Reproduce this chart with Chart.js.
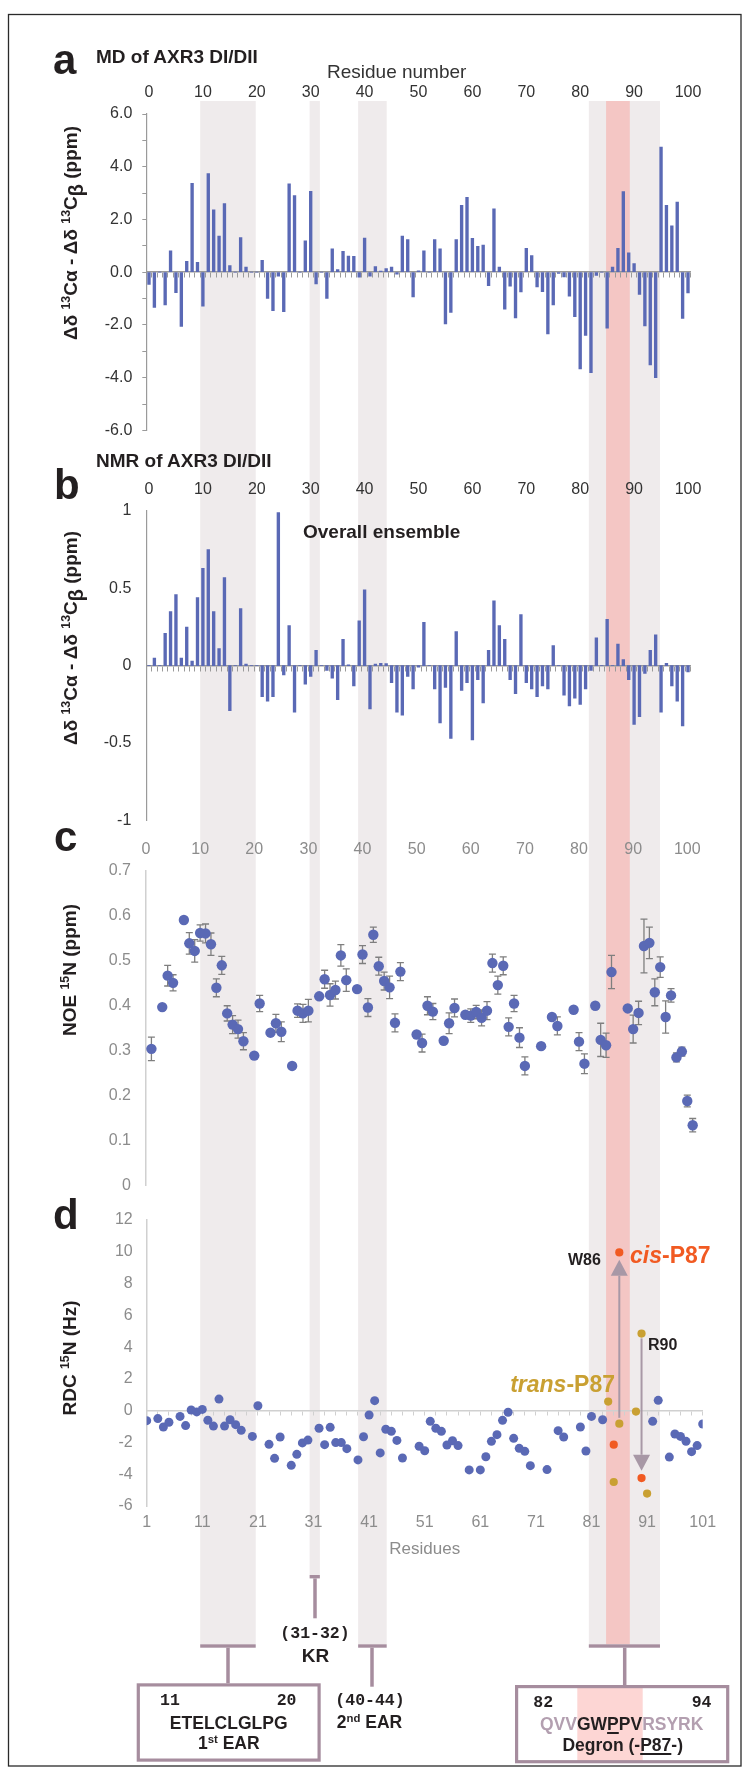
<!DOCTYPE html>
<html>
<head>
<meta charset="utf-8">
<script src="https://cdn.jsdelivr.net/npm/chart.js@4.4.0/dist/chart.umd.min.js"></script>
<style>
  body { margin: 0; background: #fff; }
  #page { position: relative; width: 745px; height: 1769px; overflow: hidden;
          font-family: 'Liberation Sans', Arial, Helvetica, sans-serif; color: #231f20; }
  #page canvas { position: absolute; left: 0; }
  .t { position: absolute; line-height: 1; white-space: nowrap; }
  .b { font-weight: bold; }
  .c { transform: translateX(-50%); }
  .mono { font-family: 'Liberation Mono', 'Courier New', monospace; font-weight: bold; font-size: 16.5px; }
  .rot { position: absolute; line-height: 1; white-space: nowrap; font-weight: bold; font-size: 19px;
         transform: translate(-50%, -50%) rotate(-90deg); }
  sup { font-size: 0.65em; vertical-align: 0.55em; line-height: 0; }
  .beta { display: inline-block; font-size: 1.05em; transform: translateY(0.3em); }
  u { text-decoration-thickness: 2px; text-underline-offset: 2px; }
  .lilac { color: #b39fb0; }
</style>
</head>
<body>
<div id="page">
  <canvas id="bg" width="745" height="1769" style="top:0"></canvas>
  <canvas id="cA" width="745" height="410" style="top:40px"></canvas>
  <canvas id="cB" width="745" height="395" style="top:450px"></canvas>
  <canvas id="cC" width="745" height="390" style="top:820px"></canvas>
  <canvas id="cD" width="745" height="380" style="top:1190px"></canvas>

  <!-- panel a -->
  <div class="t b" style="left:53px;top:38.7px;font-size:42px">a</div>
  <div class="t b" style="left:96px;top:47.2px;font-size:19px">MD of AXR3 DI/DII</div>
  <div class="t" style="left:327px;top:62.2px;font-size:19px;color:#333">Residue number</div>
  <div class="rot" style="left:71px;top:232.5px">Δδ <sup>13</sup>Cα - Δδ <sup>13</sup>C<span class="beta">β</span> (ppm)</div>

  <!-- panel b -->
  <div class="t b" style="left:54px;top:464.4px;font-size:42px">b</div>
  <div class="t b" style="left:96px;top:450.6px;font-size:19px">NMR of AXR3 DI/DII</div>
  <div class="t b" style="left:303px;top:522.2px;font-size:19px">Overall ensemble</div>
  <div class="rot" style="left:71px;top:637.5px">Δδ <sup>13</sup>Cα - Δδ <sup>13</sup>C<span class="beta">β</span> (ppm)</div>

  <!-- panel c -->
  <div class="t b" style="left:54px;top:816.1px;font-size:42px">c</div>
  <div class="rot" style="left:68.5px;top:970px">NOE <sup>15</sup>N (ppm)</div>

  <!-- panel d -->
  <div class="t b" style="left:53px;top:1194.4px;font-size:42px">d</div>
  <div class="rot" style="left:68.5px;top:1358.3px">RDC <sup>15</sup>N (Hz)</div>
  <div class="t b" style="left:568px;top:1252.2px;font-size:16px">W86</div>
  <div class="t b" style="left:630px;top:1243.8px;font-size:23px;color:#f15a22"><i>cis</i>-P87</div>
  <div class="t b" style="left:648px;top:1337.2px;font-size:16px">R90</div>
  <div class="t b" style="right:130px;top:1373.2px;font-size:23px;color:#c9a032"><i>trans</i>-P87</div>

  <!-- region labels -->
  <div class="t mono c" style="left:315px;top:1625.7px">(31-32)</div>
  <div class="t b c" style="left:315.5px;top:1645.6px;font-size:19px">KR</div>
  <div class="t mono" style="left:160px;top:1693.4px">11</div>
  <div class="t mono" style="left:276.7px;top:1693.4px">20</div>
  <div class="t b c" style="left:228.7px;top:1715.2px;font-size:17.5px">ETELCLGLPG</div>
  <div class="t b c" style="left:228.8px;top:1734.5px;font-size:17.5px">1<sup>st</sup> EAR</div>
  <div class="t mono c" style="left:370px;top:1693.4px">(40-44)</div>
  <div class="t b c" style="left:369.5px;top:1714.2px;font-size:17.5px">2<sup>nd</sup> EAR</div>
  <div class="t mono" style="left:533.3px;top:1695.1px">82</div>
  <div class="t mono" style="left:691.7px;top:1695.1px">94</div>
  <div class="t b c" style="left:621.7px;top:1715.9px;font-size:17.5px"><span class="lilac">QVV</span>GW<u>P</u>PV<span class="lilac">RSYRK</span></div>
  <div class="t b c" style="left:622.7px;top:1736.9px;font-size:17.5px">Degron (-<u>P87</u>-)</div>
</div>

<script>
// ---- data ----

// a: MD, Δδ13Cα - Δδ13Cβ (ppm), one bar per residue position 0..100 of the top axis
const mdShift = [
  -0.46, -1.34, 0, -1.24, 0.81, -0.78, -2.06, 0.41, 3.37, 0.37,
  -1.29, 3.74, 2.37, 1.37, 2.6, 0.25, 0, 1.31, 0.19, 0,
  0, 0.45, -0.99, -1.46, -0.15, -1.5, 3.35, 2.91, 0, 1.19,
  3.07, -0.44, 0, -0.99, 0.89, 0.1, 0.79, 0.61, 0.6, -0.19,
  1.29, -0.15, 0.21, 0.04, 0.14, 0.19, -0.07, 1.37, 1.24, -0.94,
  0.05, 0.81, 0, 1.24, 0.89, -1.96, -1.53, 1.24, 2.54, 2.84,
  1.28, 0.98, 1.03, -0.51, 2.4, 0.19, -1.4, -0.53, -1.73, -0.75,
  0.91, 0.63, -0.56, -0.74, -2.34, -1.24, -0.05, -0.18, -0.91, -1.69,
  -3.67, -2.4, -3.81, -0.12, 0, -2.12, 0.19, 0.91, 3.06, 0.73,
  0.33, -0.84, -2.04, -3.52, -4.0, 4.75, 2.54, 1.76, 2.66, -1.75,
  -0.79
];

// b: NMR overall ensemble (ppm)
const nmrShift = [
  0, 0.05, 0, 0.21, 0.35, 0.46, 0.05, 0.25, 0.03, 0.44,
  0.63, 0.75, 0.35, 0.11, 0.57, -0.29, 0, 0.37, 0.01, 0,
  0, -0.2, -0.23, -0.2, 0.99, -0.06, 0.26, -0.3, 0, -0.12,
  -0.07, 0.1, 0, -0.03, -0.08, -0.22, 0.17, 0.005, -0.13, 0.29,
  0.49, -0.28, 0.01, 0.015, 0.013, -0.11, -0.3, -0.32, -0.07, -0.15,
  -0.01, 0.28, 0, -0.15, -0.37, -0.14, -0.47, 0.22, -0.16, -0.11,
  -0.48, -0.09, -0.24, 0.1, 0.42, 0.26, 0.17, -0.09, -0.18, 0.33,
  -0.11, -0.15, -0.2, -0.13, -0.15, 0.13, 0, -0.19, -0.26, -0.21,
  -0.25, -0.15, -0.03, 0.18, 0, 0.3, 0, 0.14, 0.04, -0.09,
  -0.38, -0.33, -0.05, 0.1, 0.2, -0.3, 0.015, -0.13, -0.23, -0.39,
  -0.04
];
const barPosition = mdShift.map((_, i) => i);

// c: 15N NOE with error bars
const noeResidue = [1,3,4,5,7,8,9,10,11,12, 13,14,15,16,17,18,20,21,23,24,
  25,27,28,29,30,32,33,34,35,36, 37,39,40,41,42,43,44,45,46,47,
  50,51,52,53,55,56,57,59,60,61, 62,63,64,65,66,67,68,69,70,73,
  75,76,79,80,81,83,84,85,86,89, 90,91,92,93,94,95,96,97,98,99, 100,101];
const noeValue = [0.304,0.397,0.467,0.451,0.591,0.539,0.522,0.562,0.561,0.537,
  0.44,0.49,0.383,0.358,0.348,0.321,0.289,0.405,0.34,0.361,
  0.342,0.266,0.389,0.383,0.389,0.421,0.459,0.424,0.435,0.512,
  0.457,0.437,0.514,0.396,0.558,0.488,0.455,0.441,0.362,0.476,
  0.336,0.317,0.4,0.387,0.322,0.361,0.395,0.38,0.378,0.386,
  0.373,0.389,0.495,0.446,0.489,0.353,0.405,0.329,0.266,0.31,
  0.375,0.355,0.391,0.32,0.271,0.4,0.324,0.312,0.475,0.394,
  0.348,0.384,0.533,0.54,0.43,0.486,0.375,0.423,0.285,0.298,
  0.188,0.134];
const noeError = [0.026,0,0.023,0.018,0,0.024,0.025,0.018,0.021,0.025,
  0.02,0.02,0.017,0.02,0.02,0.019,0,0.018,0,0.02,
  0.022,0,0.015,0.02,0.025,0,0.02,0.025,0.02,0.024,
  0.025,0,0.02,0.02,0.017,0.02,0.02,0.025,0.02,0.02,
  0,0.02,0.02,0.018,0,0.023,0.02,0,0.015,0.015,
  0.018,0.02,0.02,0.02,0.02,0.02,0.018,0.022,0.02,0,
  0,0.02,0,0.02,0.022,0,0.037,0.027,0.037,0,
  0.031,0.026,0.06,0.035,0.03,0.023,0.036,0.015,0.01,0.01,
  0.013,0.015];

// d: 15N RDC (Hz)
const rdcResidue = [1,3,4,5,7,8,9,10,11,12, 13,14,15,16,17,18,20,21,23,24,
  25,27,28,29,30,32,33,34,35,36, 37,39,40,41,42,43,44,45,46,47,
  50,51,52,53,54,55,56,57,59,61, 62,63,64,65,66,67,68,69,70,73,
  75,76,79,80,81,83,92,93,95,96, 97,98,99,100,101];
const rdcValue = [-0.63,-0.5,-1.03,-0.73,-0.36,-0.94,0.04,-0.08,0.08,-0.6,
  -0.97,0.73,-0.97,-0.57,-0.88,-1.24,-1.62,0.31,-2.12,-3.0,
  -1.66,-3.44,-2.75,-2.03,-1.85,-1.11,-2.14,-1.05,-2.01,-2.01,
  -2.39,-3.1,-1.64,-0.27,0.63,-2.66,-1.17,-1.3,-1.87,-2.98,
  -2.24,-2.52,-0.67,-1.11,-1.3,-2.16,-1.89,-2.2,-3.73,-3.73,
  -2.9,-1.93,-1.51,-0.61,-0.1,-1.74,-2.37,-2.56,-3.46,-3.71,
  -1.26,-1.66,-1.03,-2.54,-0.36,-0.57,-0.67,0.65,-2.92,-1.47,
  -1.62,-1.93,-2.58,-2.2,-0.84];
const transResidue = [84, 85, 86, 89, 90, 91];
const transValue = [0.57, -4.49, -0.82, -0.06, 4.85, -5.22];
const cisResidue = [85, 86, 90];
const cisValue = [-2.14, 9.96, -4.24];
// trans -> cis shift arrows for W86 and R90
const arrowResidue = [86, 90];
const arrowFrom = [-0.45, 4.55];
const arrowTo = [9.5, -3.78];

// tick labels
const topTicks = [0, 10, 20, 30, 40, 50, 60, 70, 80, 90, 100];
const rdcTicks = [1, 11, 21, 31, 41, 51, 61, 71, 81, 91, 101];

// highlighted regions, in the units of the top "Residue number" axis
const bandStart = [9.5, 29.8, 38.8, 81.6];
const bandEnd = [19.8, 31.7, 44.1, 94.8];
const degronCore = [84.8, 89.2];

// ---- styling ----
const BLUE = '#5a69b5';
const GOLD = '#c9a032';
const ORANGE = '#f15a22';
const MAUVE = '#a68d9e';
const ARROW = '#a898a6';
const GREY_BAND = '#efebec';
const RED_BAND = '#f4c6c4';
const DARK_TXT = '#333';
const GREY_TXT = '#8c8c8c';

Chart.defaults.font.family = "'Liberation Sans', Arial, Helvetica, sans-serif";
Chart.defaults.plugins.legend.display = false;
Chart.defaults.plugins.tooltip.enabled = false;

const tickFix = list => scale => { scale.ticks = list.map(v => ({ value: v })); };

function zeroAxis(min, max, edges, color, width) {
  return {
    type: 'linear', position: { y: 0 }, min, max, offset: false,
    grid: { drawOnChartArea: false, drawTicks: true, tickLength: 5, color, lineWidth: 1, offset: false },
    border: { color, width },
    ticks: { display: false },
    afterBuildTicks: tickFix(edges)
  };
}

// bar panels share everything but data and the y range
const barEdges = [];
for (let v = -0.5; v <= 100.5; v += 1) barEdges.push(v);

function barChart(id, values, yOpts, topHeight, padBottom) {
  return new Chart(document.getElementById(id), {
    type: 'bar',
    data: { datasets: [{
      data: barPosition.map((p, i) => ({ x: p, y: values[i] })),
      backgroundColor: BLUE, barThickness: 2.7, xAxisID: 'x', yAxisID: 'y'
    }] },
    options: {
      responsive: false, animation: false, events: [],
      layout: { padding: { left: 0, right: 54.3, top: 0, bottom: padBottom } },
      scales: {
        x: { type: 'linear', position: 'top', min: -0.5, max: 100.5, offset: false,
             grid: { display: false, drawTicks: false, offset: false }, border: { display: false },
             ticks: { padding: 11.4, color: DARK_TXT, font: { size: 16 }, maxRotation: 0 },
             afterBuildTicks: tickFix(topTicks),
             afterFit: s => { s.height = topHeight; } },
        x0: zeroAxis(-0.5, 100.5, barEdges, '#9a9a9a', 1.5),
        y: Object.assign({ type: 'linear', position: 'left',
             afterFit: s => { s.width = 146.3; } }, yOpts)
      }
    }
  });
}

const chartA = barChart('cA', mdShift, {
  min: -6, max: 6,
  ticks: { stepSize: 1, padding: 10, color: DARK_TXT, font: { size: 16 },
           callback: v => (v % 2 === 0 ? v.toFixed(1) : '') },
  grid: { drawOnChartArea: false, drawTicks: true, tickLength: 4, color: '#9a9a9a' },
  border: { color: '#9a9a9a', width: 1.2 }
}, 74, 17);

const chartB = barChart('cB', nmrShift, {
  min: -1, max: 1,
  ticks: { stepSize: 0.5, padding: 15, color: DARK_TXT, font: { size: 16 },
           callback: v => String(v) },
  grid: { display: false, drawTicks: false },
  border: { color: '#9a9a9a', width: 1.2 }
}, 61, 14);

// panel c error bars
const errorBars = {
  id: 'errorBars',
  beforeDatasetsDraw(chart) {
    const { ctx, scales: { x, y } } = chart;
    ctx.save();
    ctx.strokeStyle = '#7f7f7f';
    ctx.lineWidth = 1.3;
    noeResidue.forEach((r, i) => {
      const e = noeError[i];
      if (!e) return;
      const px = x.getPixelForValue(r);
      const lo = y.getPixelForValue(noeValue[i] - e);
      const hi = y.getPixelForValue(noeValue[i] + e);
      ctx.beginPath();
      ctx.moveTo(px, lo); ctx.lineTo(px, hi);
      ctx.moveTo(px - 3.5, lo); ctx.lineTo(px + 3.5, lo);
      ctx.moveTo(px - 3.5, hi); ctx.lineTo(px + 3.5, hi);
      ctx.stroke();
    });
    ctx.restore();
  }
};

const chartC = new Chart(document.getElementById('cC'), {
  type: 'scatter',
  data: { datasets: [{
    data: noeResidue.map((r, i) => ({ x: r, y: noeValue[i] })),
    backgroundColor: BLUE, borderWidth: 0, pointRadius: 5.2
  }] },
  options: {
    responsive: false, animation: false, events: [],
    layout: { padding: { left: 0, right: 46.9, top: 0, bottom: 20 } },
    scales: {
      x: { type: 'linear', position: 'top', min: 0, max: 102, offset: false,
           grid: { display: false, drawTicks: false }, border: { display: false },
           ticks: { padding: 11.4, color: GREY_TXT, font: { size: 16 }, maxRotation: 0 },
           afterBuildTicks: tickFix(topTicks),
           afterFit: s => { s.height = 51; } },
      y: { type: 'linear', position: 'left', min: 0, max: 0.7,
           ticks: { stepSize: 0.1, padding: 15, color: GREY_TXT, font: { size: 16 },
                    callback: v => (Math.abs(v) < 1e-9 ? '0' : v.toFixed(1)) },
           grid: { display: false, drawTicks: false },
           border: { color: '#d0d0d0', width: 1.5 },
           afterFit: s => { s.width = 146; } }
    }
  },
  plugins: [errorBars]
});

// panel d arrows
const shiftArrows = {
  id: 'shiftArrows',
  beforeDatasetsDraw(chart) {
    const { ctx, scales: { x, y } } = chart;
    ctx.save();
    ctx.strokeStyle = ARROW;
    ctx.fillStyle = ARROW;
    ctx.lineWidth = 2;
    arrowResidue.forEach((r, i) => {
      const px = x.getPixelForValue(r);
      const y0 = y.getPixelForValue(arrowFrom[i]);
      const y1 = y.getPixelForValue(arrowTo[i]);
      const dir = y1 < y0 ? 1 : -1;
      const base = y1 + dir * 16;
      ctx.beginPath(); ctx.moveTo(px, y0); ctx.lineTo(px, base); ctx.stroke();
      ctx.beginPath();
      ctx.moveTo(px, y1); ctx.lineTo(px - 8.5, base); ctx.lineTo(px + 8.5, base);
      ctx.closePath(); ctx.fill();
    });
    ctx.restore();
  }
};

const oddEdges = [];
for (let v = 1; v <= 101; v += 2) oddEdges.push(v);

const chartD = new Chart(document.getElementById('cD'), {
  type: 'scatter',
  data: { datasets: [
    { data: rdcResidue.map((r, i) => ({ x: r, y: rdcValue[i] })),
      backgroundColor: BLUE, borderWidth: 0, pointRadius: 4.5 },
    { data: transResidue.map((r, i) => ({ x: r, y: transValue[i] })),
      backgroundColor: GOLD, borderWidth: 0, pointRadius: 4.1 },
    { data: cisResidue.map((r, i) => ({ x: r, y: cisValue[i] })),
      backgroundColor: ORANGE, borderWidth: 0, pointRadius: 4.1 }
  ] },
  options: {
    responsive: false, animation: false, events: [],
    layout: { padding: { left: 0, right: 42.3, top: 30, bottom: 0 } },
    scales: {
      x: { type: 'linear', position: 'bottom', min: 1, max: 101, offset: false,
           grid: { display: false, drawTicks: false }, border: { display: false },
           ticks: { padding: 7.4, color: GREY_TXT, font: { size: 16 }, maxRotation: 0 },
           afterBuildTicks: tickFix(rdcTicks),
           title: { display: true, text: 'Residues', color: GREY_TXT, font: { size: 17 },
                    padding: { top: 0, bottom: 10.8 } },
           afterFit: s => { s.height = 64; } },
      x0: Object.assign(zeroAxis(1, 101, oddEdges, '#d0d0d0', 1.5), {}),
      y: { type: 'linear', position: 'left', min: -6, max: 12,
           ticks: { stepSize: 2, padding: 14, color: GREY_TXT, font: { size: 16 } },
           grid: { display: false, drawTicks: false },
           border: { color: '#d0d0d0', width: 1.5 },
           afterFit: s => { s.width = 146.7; } }
    }
  },
  plugins: [shiftArrows]
});
chartD.options.scales.x0.grid.tickLength = 4;
chartD.update();

// ---- shaded regions, brackets and boxes behind the charts ----
function drawBackdrop() {
  const ctx = document.getElementById('bg').getContext('2d');
  const xs = chartA.scales.x;
  const px = v => xs.getPixelForValue(v);
  const top = 101;
  const foot = [1644.3, 1575, 1644.3, 1644.3];

  ctx.fillStyle = '#fff';
  ctx.fillRect(0, 0, 745, 1769);

  ctx.fillStyle = GREY_BAND;
  bandStart.forEach((s, i) => ctx.fillRect(px(s), top, px(bandEnd[i]) - px(s), foot[i] - top));
  ctx.fillStyle = RED_BAND;
  ctx.fillRect(px(degronCore[0]), top, px(degronCore[1]) - px(degronCore[0]), foot[3] - top);

  // bracket bars under each band
  ctx.fillStyle = MAUVE;
  bandStart.forEach((s, i) => ctx.fillRect(px(s), foot[i], px(bandEnd[i]) - px(s), 3.4));

  // stems
  const stemX = [228, 315, 372, 624.7];
  const stemEnd = [1683.3, 1618.3, 1686.7, 1685];
  stemX.forEach((x, i) => ctx.fillRect(x - 1.75, foot[i] + 3.4, 3.5, stemEnd[i] - foot[i] - 3.4));

  // boxes
  ctx.fillStyle = '#fdd6d4';
  ctx.fillRect(577.3, 1686, 65.4, 76);
  ctx.strokeStyle = MAUVE;
  ctx.lineWidth = 3.2;
  ctx.strokeRect(136.7 + 1.6, 1683.3 + 1.6, 184 - 3.2, 78.4 - 3.2);
  ctx.strokeRect(515 + 1.6, 1685 + 1.6, 214.3 - 3.2, 78.3 - 3.2);

  // outer frame
  ctx.strokeStyle = '#2a2a2a';
  ctx.lineWidth = 1.3;
  ctx.strokeRect(8.5, 14.5, 732.5, 1751.5);
}
drawBackdrop();
</script>
</body>
</html>
